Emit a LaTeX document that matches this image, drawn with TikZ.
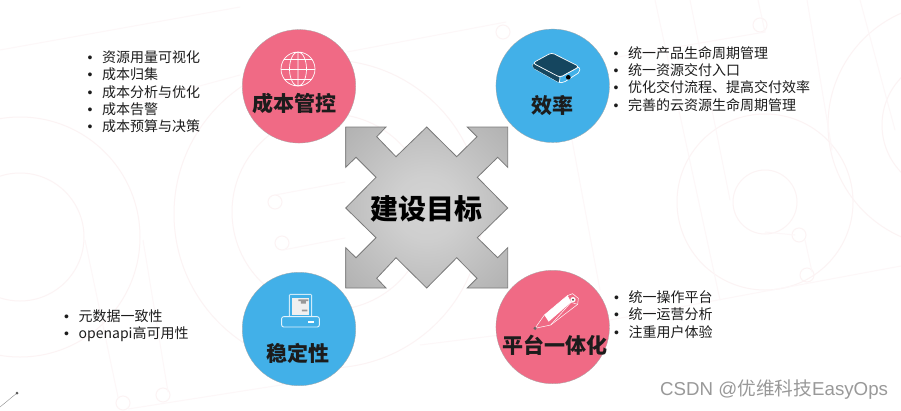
\documentclass[tikz,border=0pt]{standalone}
\usepackage{fontspec}
\setmainfont{Noto Sans CJK SC}
\newfontfamily\latinfont{Liberation Sans}
\definecolor{rosec}{HTML}{F06A85}
\definecolor{skyc}{HTML}{42B0E8}
\definecolor{faintc}{HTML}{FCF3F4}
\definecolor{fainterc}{HTML}{FDF7F8}
\definecolor{inkc}{HTML}{1C1C1C}
\definecolor{bookc}{HTML}{15465F}
\definecolor{edgec}{HTML}{7A7A7A}
\pgfdeclareradialshading{arrowgray}{\pgfpoint{0bp}{0bp}}{color(0bp)=(rgb:white,0.83;black,0.17);color(10bp)=(rgb:white,0.81;black,0.19);color(50bp)=(rgb:white,0.63;black,0.37);color(71bp)=(rgb:white,0.44;black,0.56)}
\newcommand\li[1]{\makebox[14.5pt][l]{\latinfont •}#1}
\tikzset{
  goal/.style={circle,minimum size=113.5pt,inner sep=0pt,draw=black!35,line width=.3pt},
  title/.style={font=\fontsize{21}{24}\selectfont\bfseries,text=inkc,inner sep=0pt},
  itemlist/.style={font=\fontsize{14}{17.3}\selectfont,align=left,anchor=north west,inner sep=0pt,text=inkc},
  bg/.style={draw=faintc,line width=1pt},
  bgl/.style={draw=fainterc,line width=1pt},
  icon/.style={draw=white,line width=.7pt,line join=round}
}
\begin{document}
\begin{tikzpicture}[x=1pt,y=-1pt]
\useasboundingbox (0,0) rectangle (901,410);
\fill[white] (0,0) rectangle (901,410);
\begin{scope}
\clip (0,0) rectangle (901,410);
% faint background pattern
\path[bg] (20,237) circle[radius=120] (20,237) circle[radius=64];
\path[bg] (328,214) circle[radius=154] (330,212) circle[radius=98];
\path[bg] (765,202) circle[radius=88] (765,202) circle[radius=32];
\path[bg] (950,125) circle[radius=122] (950,125) circle[radius=68];
\path[bg] (275,202) circle[radius=7] (282,243) circle[radius=7];
\path[bg] (123,403) circle[radius=7] (163,395) circle[radius=7];
\path[bg] (799,235) circle[radius=7] (807,275) circle[radius=7];
\path[bg] (503,32) circle[radius=7] (760,25) circle[radius=7];
\path[bgl] (0,50) -- (240,7);
\path[bgl] (130,105) -- (240,75);
\path[bgl] (275,195) -- (345,182);
\path[bgl] (283,250) -- (345,238);
\path[bgl] (85,240) -- (118,397);
\path[bgl] (143,240) -- (168,392);
\path[bgl] (128,409) -- (300,382);
\path[bgl] (347,52) -- (506,22);
\path[bgl] (612,58) -- (765,32) -- (758,0);
\path[bgl] (655,0) -- (720,300) ;
\path[bgl] (690,0) -- (730,200);
\path[bgl] (795,235) -- (765,232);
\path[bgl] (805,240) -- (812,272);
\path[bgl] (420,345) -- (500,335);
\path[bgl] (610,320) -- (901,266);
\path[bgl] (572,140) -- (600,290);
\path[bgl] (807,0) -- (832,150);
\path[bgl] (860,0) -- (895,130);
\end{scope}
% central arrow
\path[draw=edgec,line width=.8pt,line join=miter,shading=arrowgray]
  (345.7,127) -- (386,127) -- (376.7,136.7) -- (396,156.7) -- (426.7,127) -- (456.7,156.7)
  -- (477,136.7) -- (467.3,127) -- (507.7,127) -- (507.7,167.3) -- (497.7,157.3) -- (477.3,177.3)
  -- (507.7,208) -- (477.3,237.7) -- (497.7,257.7) -- (507.7,247.7) -- (507.7,288) -- (467.3,288)
  -- (477,278.3) -- (456.7,257.7) -- (426.7,288) -- (396,257.7) -- (376.7,278.3) -- (386,288)
  -- (345.7,288) -- (345.7,247.7) -- (356,257.7) -- (376,237.7) -- (345.7,208) -- (376,177.3)
  -- (356,157.3) -- (345.7,167.3) -- cycle;
\node[font=\fontsize{28}{32}\selectfont\bfseries,text=black,inner sep=0pt] (center) at (426,209) {建设目标};
% goal circles
\node[goal,fill=rosec] (cost) at (299,86.3) {};
\node[goal,fill=skyc] (eff) at (552.7,85.8) {};
\node[goal,fill=skyc] (stab) at (299,329) {};
\node[goal,fill=rosec] (plat) at (552.7,327) {};
% globe icon
\begin{scope}[shift={(298,69)}]
\draw[icon] (0,0) circle[radius=17] (0,0) ellipse[x radius=8.5,y radius=17] (0,-17) -- (0,17);
\draw[icon] (-17,0) -- (17,0) (-13.6,-10) -- (13.6,-10) (-13.6,10) -- (13.6,10);
\end{scope}
% book icon
\begin{scope}[shift={(480,20)},x=.3333pt,y=-.3333pt]
\draw[icon,fill=skyc,rounded corners=2pt] (158,130) -- (158,143) -- (238,188) -- (250,188) -- (300,156) -- (298,140) -- (240,172) -- cycle;
\fill[bookc,rounded corners=1.5pt] (158,130) -- (158,143) -- (238,188) -- (240,172) -- cycle;
\draw[icon,fill=bookc,rounded corners=3pt] (158,129) -- (215,98) -- (298,140) -- (240,172) -- cycle;
\draw[icon] (240,172) -- (238,188);
\fill[black] (265,172) circle[radius=7];
\end{scope}
% terminal icon
\begin{scope}[shift={(230,265)},x=.3333pt,y=-.3333pt]
\draw[draw=white!75!skyc,line width=.9pt,rounded corners=1pt] (178,155) -- (178,88) -- (245,88) -- (245,155);
\fill[white!94!black] (185,98) rectangle (238,150);
\fill[black!40] (205,103) rectangle (235,108) (213,108) rectangle (228,116) (216,134) rectangle (232,139);
\draw[draw=white!85!skyc,line width=.9pt,rounded corners=2pt] (155,155) rectangle (268,186);
\fill[white] (235,169) rectangle (252,174);
\end{scope}
% pencil icon
\begin{scope}[shift={(490,265)},x=.3333pt,y=-.3333pt]
\fill[white] (163,150) -- (232,92) -- (243,112) -- (176,170) -- cycle;
\draw[icon,line width=.5pt] (135,190) -- (163,150) -- (232,92) -- (248,86) -- (265,100) -- (263,118) -- (182,180) -- (135,190);
\draw[icon,line width=.5pt] (232,92) -- (243,112) -- (263,118) (243,112) -- (182,180);
\fill[white] (249,104) circle[radius=8];
\fill[black!70] (249,104) circle[radius=3.5];
\fill[black!60] (135,190) circle[radius=5];
\end{scope}
% titles
\node[title] (tcost) at (294,103) {成本管控};
\node[title] (teff) at (552,106) {效率};
\node[title] (tstab) at (298,353) {稳定性};
\node[title] (tplat) at (555,345.5) {平台一体化};
% lists
\node[itemlist] (lcost) at (87.5,50.5) {\li{资源用量可视化}\\\li{成本归集}\\\li{成本分析与优化}\\\li{成本告警}\\\li{成本预算与决策}};
\node[itemlist] (leff) at (613.5,46) {\li{统一产品生命周期管理}\\\li{统一资源交付入口}\\\li{优化交付流程、提高交付效率}\\\li{完善的云资源生命周期管理}};
\node[itemlist] (lstab) at (64,309.5) {\li{元数据一致性}\\\li{openapi高可用性}};
\node[itemlist] (lplat) at (614,290.5) {\li{统一操作平台}\\\li{统一运营分析}\\\li{注重用户体验}};
% watermark
\node[font=\fontsize{18.7}{22}\selectfont,text=black!40,anchor=west,inner sep=0pt] (mark) at (660,390) {{\latinfont CSDN @}优维科技{\latinfont EasyOps}};
% stray mark
\coordinate (s0) at (0,407);
\node[circle,fill=black!65,inner sep=0pt,minimum size=3pt] (s1) at (17,393) {};
\draw[black!45,line width=.4pt] (s0) -- (s1);
\end{tikzpicture}
\end{document}
